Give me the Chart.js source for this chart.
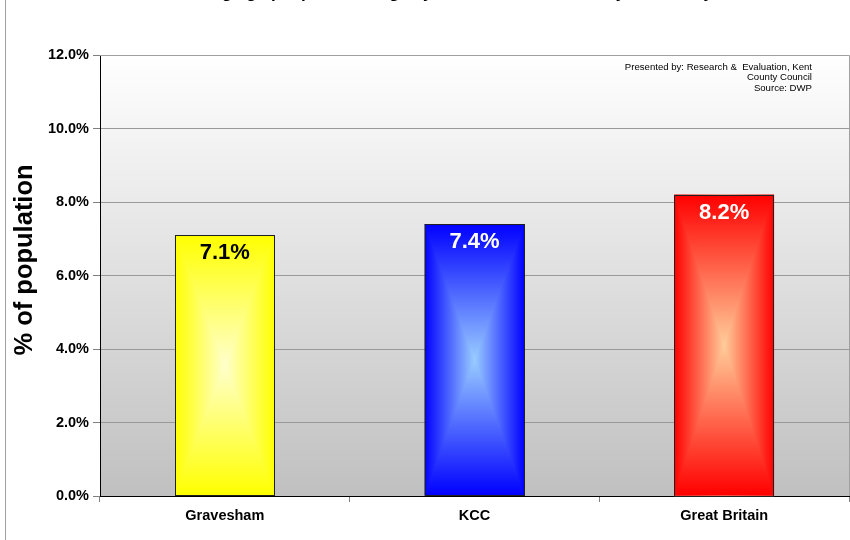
<!DOCTYPE html>
<html>
<head>
<meta charset="utf-8">
<script src="https://cdn.jsdelivr.net/npm/chart.js@4/dist/chart.umd.min.js"></script>
<style>
  html, body { margin: 0; padding: 0; background: #ffffff; }
  #wrap { width: 850px; height: 540px; position: relative; }
</style>
</head>
<body>
<div id="wrap"><canvas id="c" width="850" height="540"></canvas></div>
<script>
const chartTitle = 'Working age people claiming key out-of-work benefits by area - May 2009';
const categories = ['Gravesham', 'KCC', 'Great Britain'];
const values = [7.1, 7.4, 8.2];
const barColors = ['#ffff00', '#0000ff', '#ff0000'];
const centerColors = ['#ffffcc', '#99ccff', '#ffcc99'];
const labelColors = ['#000000', '#ffffff', '#ffffff'];
const yMin = 0, yMax = 12, yStep = 2;
const yAxisTitle = '% of population';
const noteLines = ['Presented by: Research &  Evaluation, Kent', 'County Council', 'Source: DWP'];

const FONT = '"Liberation Sans", Arial, sans-serif';

const decorPlugin = {
  id: 'decor',
  beforeDraw(chart) {
    const ctx = chart.ctx, a = chart.chartArea;
    ctx.save();
    ctx.fillStyle = '#ffffff';
    ctx.fillRect(0, 0, chart.width, chart.height);
    ctx.strokeStyle = '#a0a0a0';
    ctx.lineWidth = 1;
    ctx.beginPath(); ctx.moveTo(5.5, 0); ctx.lineTo(5.5, chart.height); ctx.stroke();
    const g = ctx.createLinearGradient(0, a.top, 0, a.bottom);
    g.addColorStop(0, '#ffffff');
    g.addColorStop(1, '#c0c0c0');
    ctx.fillStyle = g;
    ctx.fillRect(a.left, a.top, a.right - a.left, a.bottom - a.top);
    ctx.fillStyle = '#000000';
    ctx.font = 'bold 17px ' + FONT;
    ctx.textAlign = 'center';
    ctx.textBaseline = 'alphabetic';
    ctx.fillText(chartTitle, 460, -2);
    // y axis title
    ctx.save();
    ctx.translate(25, 260);
    ctx.rotate(-Math.PI / 2);
    ctx.font = 'bold 25.5px ' + FONT;
    ctx.textBaseline = 'middle';
    ctx.fillText(yAxisTitle, 0, 0);
    ctx.restore();
    ctx.restore();
  },
  afterDatasetsDraw(chart) {
    const ctx = chart.ctx;
    const meta = chart.getDatasetMeta(0);
    ctx.save();
    meta.data.forEach((el, i) => {
      const p = el.getProps(['x', 'y', 'base', 'width'], true);
      const l = p.x - p.width / 2, r = p.x + p.width / 2;
      const t = Math.min(p.y, p.base), b = Math.max(p.y, p.base);
      const cx = p.x, cy = (t + b) / 2;
      const sat = barColors[i], light = centerColors[i];
      const mk = (x0, y0, x1, y1) => {
        const g = ctx.createLinearGradient(x0, y0, x1, y1);
        g.addColorStop(0, sat); g.addColorStop(1, light); return g;
      };
      const hg = ctx.createLinearGradient(l, 0, r, 0);
      hg.addColorStop(0, sat); hg.addColorStop(0.5, light); hg.addColorStop(1, sat);
      ctx.fillStyle = hg;
      ctx.fillRect(l, t, r - l, b - t);
      const tri = (pts, grad) => {
        ctx.beginPath();
        ctx.moveTo(pts[0][0], pts[0][1]);
        for (let k = 1; k < pts.length; k++) ctx.lineTo(pts[k][0], pts[k][1]);
        ctx.closePath();
        ctx.fillStyle = grad; ctx.fill();
      };
      tri([[l, t], [r, t], [cx, cy]], mk(0, t, 0, cy));
      tri([[l, b], [r, b], [cx, cy]], mk(0, b, 0, cy));
      ctx.strokeStyle = '#202020';
      ctx.lineWidth = 1;
      ctx.strokeRect(Math.round(l) + 0.5, Math.round(t) + 0.5, Math.round(r - l) - 1, Math.round(b - t));
      ctx.fillStyle = labelColors[i];
      ctx.font = 'bold 22px ' + FONT;
      ctx.textAlign = 'center';
      ctx.textBaseline = 'middle';
      ctx.fillText(values[i].toFixed(1) + '%', cx, t + 18);
    });
    ctx.restore();
  },
  afterDraw(chart) {
    const ctx = chart.ctx, a = chart.chartArea;
    ctx.save();
    ctx.strokeStyle = '#a0a0a0';
    ctx.lineWidth = 1;
    ctx.beginPath();
    ctx.moveTo(a.left, a.top + 0.5); ctx.lineTo(a.right + 0.5, a.top + 0.5); ctx.lineTo(a.right + 0.5, a.bottom);
    ctx.stroke();
    ctx.fillStyle = '#000000';
    ctx.font = '9.6px ' + FONT;
    ctx.textAlign = 'right';
    ctx.textBaseline = 'middle';
    noteLines.forEach((s, k) => ctx.fillText(s, 812, 67 + k * 10.5));
    ctx.restore();
  }
};

new Chart(document.getElementById('c'), {
  type: 'bar',
  data: {
    labels: categories,
    datasets: [{
      data: values,
      backgroundColor: barColors,
      borderColor: '#202020',
      borderWidth: 1,
      barPercentage: 0.4,
      categoryPercentage: 1.0
    }]
  },
  options: {
    responsive: false,
    animation: false,
    devicePixelRatio: 1,
    layout: { padding: { top: 55, right: 1, left: 0, bottom: 0 } },
    plugins: { legend: { display: false }, tooltip: { enabled: false } },
    scales: {
      x: {
        offset: true,
        grid: { display: true, drawOnChartArea: false, drawTicks: true, tickLength: 6, color: '#808080', offset: true },
        border: { color: '#000000', width: 1 },
        ticks: { color: '#000000', font: { family: FONT, size: 14.5, weight: 'bold' }, padding: 5 },
        afterFit(s) { s.height = 44; }
      },
      y: {
        min: yMin, max: yMax,
        ticks: {
          stepSize: yStep,
          color: '#000000',
          font: { family: FONT, size: 14.5, weight: 'bold' },
          padding: 4,
          callback: v => v.toFixed(1) + '%'
        },
        grid: { color: '#999999', tickLength: 7, tickColor: '#808080' },
        border: { color: '#000000', width: 1 },
        title: { display: false, text: yAxisTitle },
        afterFit(s) { s.width = 100; }
      }
    }
  },
  plugins: [decorPlugin]
});
</script>
</body>
</html>
